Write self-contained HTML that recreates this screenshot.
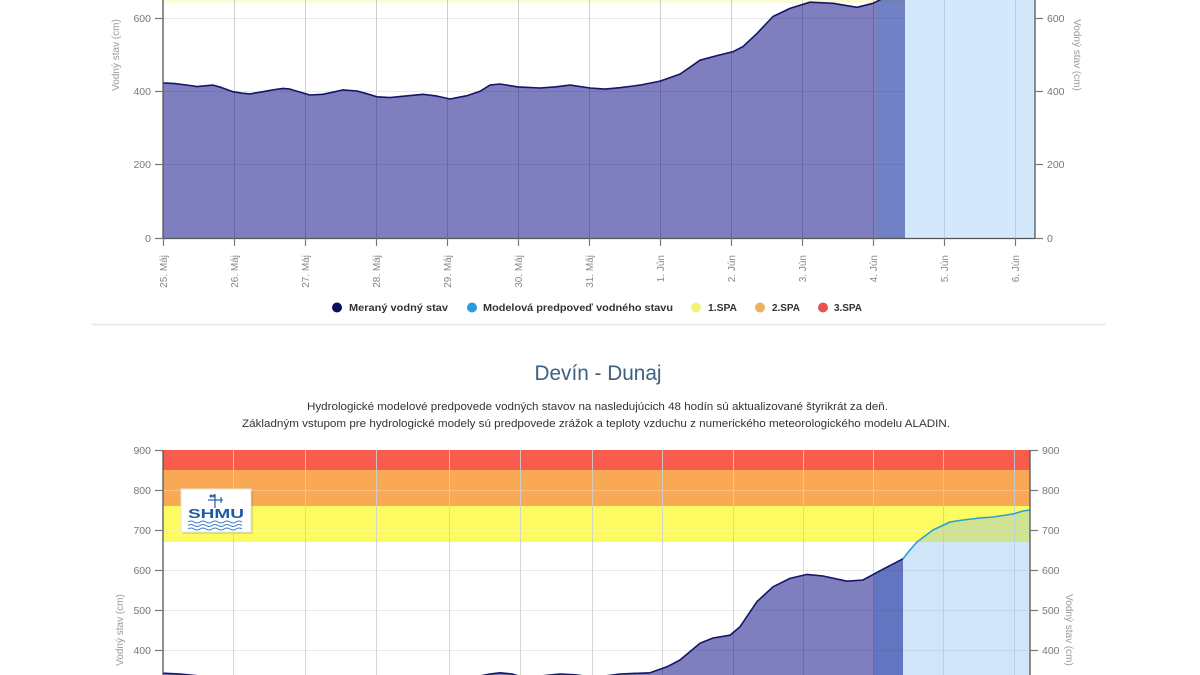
<!DOCTYPE html>
<html>
<head>
<meta charset="utf-8">
<style>
html,body{margin:0;padding:0;background:#fff;}
svg{display:block;}
text{font-family:"Liberation Sans",sans-serif;}
</style>
</head>
<body>
<svg width="1200" height="675" viewBox="0 0 1200 675" xmlns="http://www.w3.org/2000/svg">
  <!-- card shadow for top chart -->
  <rect x="90" y="0" width="1016" height="324" fill="#fff"/>
  <line x1="92" y1="324.5" x2="1106" y2="324.5" stroke="#ececec" stroke-width="2"/>

  <!-- ============ TOP CHART ============ -->
  <rect x="163" y="0" width="872" height="3" fill="#fbfbd8"/>
  <g stroke="#e8e8e8" stroke-width="1">
    <line x1="163" y1="18.5" x2="1035" y2="18.5"/>
    <line x1="163" y1="91.5" x2="1035" y2="91.5"/>
    <line x1="163" y1="164.5" x2="1035" y2="164.5"/>
  </g>
  <rect x="905" y="0" width="130" height="238" fill="#d3e8fa"/>
  <g stroke="#cfcfcf" stroke-width="1">
    <line x1="234.5" y1="0" x2="234.5" y2="238"/>
    <line x1="305.5" y1="0" x2="305.5" y2="238"/>
    <line x1="376.5" y1="0" x2="376.5" y2="238"/>
    <line x1="447.5" y1="0" x2="447.5" y2="238"/>
    <line x1="518.5" y1="0" x2="518.5" y2="238"/>
    <line x1="589.5" y1="0" x2="589.5" y2="238"/>
    <line x1="660.5" y1="0" x2="660.5" y2="238"/>
    <line x1="731.5" y1="0" x2="731.5" y2="238"/>
    <line x1="802.5" y1="0" x2="802.5" y2="238"/>
    <line x1="873.5" y1="0" x2="873.5" y2="238"/>
    <line x1="944.5" y1="0" x2="944.5" y2="238" stroke="#b9cde0"/>
    <line x1="1015.5" y1="0" x2="1015.5" y2="238" stroke="#b9cde0"/>
  </g>
  <path d="M163,82.9 L175,83.6 L190,85.5 L197,86.6 L205,85.8 L213,85.1 L222,87.7 L233,91.7 L242,93.2 L250,93.9 L263,91.7 L275,89.5 L283,88.4 L290,89.1 L300,92.1 L310,95 L323,94.3 L335,91.7 L343,89.9 L357,91 L365,93.2 L377,96.8 L390,97.6 L405,96.1 L423,94.3 L437,96.1 L450,99 L467,95.7 L480,91.3 L490,85.1 L500,84 L518,86.9 L540,88 L555,86.9 L570,85.1 L590,88 L605,89.1 L620,87.7 L640,85.1 L660,81.1 L680,74.1 L700,60.2 L715,56.1 L733,51.7 L743,46.6 L757,33.4 L773,16.5 L790,8.4 L810,2.2 L833,3.3 L857,7.3 L873,3.3 L882,-1.1 L893,-5.9 L905,-11.4 L905,238 L163,238 Z" fill="#00007f" fill-opacity="0.5"/>
  <rect x="877" y="0" width="28" height="238" fill="#3a8ae8" fill-opacity="0.2"/>
  <path d="M163,82.9 L175,83.6 L190,85.5 L197,86.6 L205,85.8 L213,85.1 L222,87.7 L233,91.7 L242,93.2 L250,93.9 L263,91.7 L275,89.5 L283,88.4 L290,89.1 L300,92.1 L310,95 L323,94.3 L335,91.7 L343,89.9 L357,91 L365,93.2 L377,96.8 L390,97.6 L405,96.1 L423,94.3 L437,96.1 L450,99 L467,95.7 L480,91.3 L490,85.1 L500,84 L518,86.9 L540,88 L555,86.9 L570,85.1 L590,88 L605,89.1 L620,87.7 L640,85.1 L660,81.1 L680,74.1 L700,60.2 L715,56.1 L733,51.7 L743,46.6 L757,33.4 L773,16.5 L790,8.4 L810,2.2 L833,3.3 L857,7.3 L873,3.3 L882,-1.1 L893,-5.9" fill="none" stroke="#15156a" stroke-width="1.6" stroke-linejoin="round"/>
  <g stroke="#555" stroke-width="1.3">
    <line x1="163" y1="0" x2="163" y2="238.5"/>
    <line x1="163" y1="238.5" x2="1035" y2="238.5"/>
    <line x1="1035" y1="0" x2="1035" y2="238.5"/>
  </g>
  <g stroke="#777" stroke-width="1.2">
    <line x1="155" y1="18.5" x2="163" y2="18.5"/>
    <line x1="155" y1="91.5" x2="163" y2="91.5"/>
    <line x1="155" y1="164.5" x2="163" y2="164.5"/>
    <line x1="155" y1="238.5" x2="163" y2="238.5"/>
    <line x1="1035" y1="18.5" x2="1043" y2="18.5"/>
    <line x1="1035" y1="91.5" x2="1043" y2="91.5"/>
    <line x1="1035" y1="164.5" x2="1043" y2="164.5"/>
    <line x1="1035" y1="238.5" x2="1043" y2="238.5"/>
    <line x1="163.5" y1="238" x2="163.5" y2="246"/>
    <line x1="234.5" y1="238" x2="234.5" y2="246"/>
    <line x1="305.5" y1="238" x2="305.5" y2="246"/>
    <line x1="376.5" y1="238" x2="376.5" y2="246"/>
    <line x1="447.5" y1="238" x2="447.5" y2="246"/>
    <line x1="518.5" y1="238" x2="518.5" y2="246"/>
    <line x1="589.5" y1="238" x2="589.5" y2="246"/>
    <line x1="660.5" y1="238" x2="660.5" y2="246"/>
    <line x1="731.5" y1="238" x2="731.5" y2="246"/>
    <line x1="802.5" y1="238" x2="802.5" y2="246"/>
    <line x1="873.5" y1="238" x2="873.5" y2="246"/>
    <line x1="944.5" y1="238" x2="944.5" y2="246"/>
    <line x1="1015.5" y1="238" x2="1015.5" y2="246"/>
  </g>
  <g font-size="10.5" fill="#777" text-anchor="end">
    <text x="151" y="22">600</text>
    <text x="151" y="95">400</text>
    <text x="151" y="168">200</text>
    <text x="151" y="242">0</text>
  </g>
  <g font-size="10.5" fill="#777" text-anchor="start">
    <text x="1047" y="22">600</text>
    <text x="1047" y="95">400</text>
    <text x="1047" y="168">200</text>
    <text x="1047" y="242">0</text>
  </g>
  <text x="0" y="0" font-size="10" fill="#999" text-anchor="middle" transform="translate(119,55) rotate(-90)">Vodný stav (cm)</text>
  <text x="0" y="0" font-size="10" fill="#999" text-anchor="middle" transform="translate(1074,55) rotate(90)">Vodný stav (cm)</text>
  <g font-size="10" fill="#888" text-anchor="end">
    <text transform="translate(167,255) rotate(-90)">25. Máj</text>
    <text transform="translate(238,255) rotate(-90)">26. Máj</text>
    <text transform="translate(309,255) rotate(-90)">27. Máj</text>
    <text transform="translate(380,255) rotate(-90)">28. Máj</text>
    <text transform="translate(451,255) rotate(-90)">29. Máj</text>
    <text transform="translate(522,255) rotate(-90)">30. Máj</text>
    <text transform="translate(593,255) rotate(-90)">31. Máj</text>
    <text transform="translate(664,255) rotate(-90)">1. Jún</text>
    <text transform="translate(735,255) rotate(-90)">2. Jún</text>
    <text transform="translate(806,255) rotate(-90)">3. Jún</text>
    <text transform="translate(877,255) rotate(-90)">4. Jún</text>
    <text transform="translate(948,255) rotate(-90)">5. Jún</text>
    <text transform="translate(1019,255) rotate(-90)">6. Jún</text>
  </g>
  <g font-size="10" font-weight="bold" fill="#333">
    <circle cx="337" cy="307.5" r="5" fill="#0d0d5e"/>
    <text x="349" y="311" textLength="99" lengthAdjust="spacingAndGlyphs">Meraný vodný stav</text>
    <circle cx="472" cy="307.5" r="5" fill="#2b9ae0"/>
    <text x="483" y="311" textLength="190" lengthAdjust="spacingAndGlyphs">Modelová predpoveď vodného stavu</text>
    <circle cx="696" cy="307.5" r="5" fill="#f3f37a"/>
    <text x="708" y="311" textLength="29" lengthAdjust="spacingAndGlyphs">1.SPA</text>
    <circle cx="760" cy="307.5" r="5" fill="#eeb15c"/>
    <text x="772" y="311" textLength="28" lengthAdjust="spacingAndGlyphs">2.SPA</text>
    <circle cx="823" cy="307.5" r="5" fill="#e8524f"/>
    <text x="834" y="311" textLength="28" lengthAdjust="spacingAndGlyphs">3.SPA</text>
  </g>

  <!-- ============ BOTTOM CHART ============ -->
  <text x="598" y="380" font-size="21" fill="#3e5f80" text-anchor="middle" textLength="127" lengthAdjust="spacingAndGlyphs">Devín - Dunaj</text>
  <text x="307" y="410" font-size="11" fill="#333" textLength="581" lengthAdjust="spacingAndGlyphs">Hydrologické modelové predpovede vodných stavov na nasledujúcich 48 hodín sú aktualizované štyrikrát za deň.</text>
  <text x="242" y="427" font-size="11" fill="#333" textLength="708" lengthAdjust="spacingAndGlyphs">Základným vstupom pre hydrologické modely sú predpovede zrážok a teploty vzduchu z numerického meteorologického modelu ALADIN.</text>

  <rect x="163" y="450" width="867" height="20" fill="#f85c4c"/>
  <rect x="163" y="470" width="867" height="36" fill="#f9a955"/>
  <rect x="163" y="506" width="867" height="36" fill="#fcfc62"/>
  <g stroke="#e8e8e8" stroke-width="1">
    <line x1="163" y1="570.5" x2="1030" y2="570.5"/>
    <line x1="163" y1="610.5" x2="1030" y2="610.5"/>
    <line x1="163" y1="650.5" x2="1030" y2="650.5"/>
  </g>
  <g stroke="#ffffff" stroke-opacity="0.25" stroke-width="1">
    <line x1="163" y1="490.5" x2="1030" y2="490.5"/>
    <line x1="163" y1="530.5" x2="1030" y2="530.5"/>
  </g>
  <path d="M873,573 L880,570.8 L903,558.8 L910,550 L917,542 L933,530 L950,522 L963,520 L980,518 L993,517 L1013,514 L1023,511 L1030,510 L1030,680 L873,680 Z" fill="#7cb5ec" fill-opacity="0.35"/>
  <g stroke="#cfcfcf" stroke-width="1" stroke-opacity="0.85">
    <line x1="233.5" y1="450" x2="233.5" y2="675"/>
    <line x1="305.5" y1="450" x2="305.5" y2="675"/>
    <line x1="376.5" y1="450" x2="376.5" y2="675"/>
    <line x1="449.5" y1="450" x2="449.5" y2="675"/>
    <line x1="520.5" y1="450" x2="520.5" y2="675"/>
    <line x1="592.5" y1="450" x2="592.5" y2="675"/>
    <line x1="662.5" y1="450" x2="662.5" y2="675"/>
    <line x1="733.5" y1="450" x2="733.5" y2="675"/>
    <line x1="803.5" y1="450" x2="803.5" y2="675"/>
    <line x1="873.5" y1="450" x2="873.5" y2="675"/>
    <line x1="943.5" y1="450" x2="943.5" y2="675" stroke="#b9cde0"/>
    <line x1="1014.5" y1="450" x2="1014.5" y2="675" stroke="#b9cde0"/>
  </g>
  <path d="M163,673.2 L180,674 L200,676 L230,678 L300,680 L400,682 L470,678 L490,674 L500,672.8 L512,674 L525,678 L545,675.6 L560,674 L575,674.8 L590,676.8 L605,676 L620,674 L650,672.8 L667,666.8 L680,660 L700,643.2 L713,638 L730,635.2 L740,626.8 L757,601.6 L773,586.8 L790,578.4 L807,574.4 L823,576 L847,581.2 L863,580 L880,570.8 L903,558.8 L903,690 L163,690 Z" fill="#00007f" fill-opacity="0.5"/>
  <path d="M873,573 L880,570.8 L903,558.8 L903,690 L873,690 Z" fill="#3a8ae8" fill-opacity="0.1"/>
  <path d="M163,673.2 L180,674 L200,676 L230,678 L300,680 L400,682 L470,678 L490,674 L500,672.8 L512,674 L525,678 L545,675.6 L560,674 L575,674.8 L590,676.8 L605,676 L620,674 L650,672.8 L667,666.8 L680,660 L700,643.2 L713,638 L730,635.2 L740,626.8 L757,601.6 L773,586.8 L790,578.4 L807,574.4 L823,576 L847,581.2 L863,580 L880,570.8 L903,558.8" fill="none" stroke="#15156a" stroke-width="1.6" stroke-linejoin="round"/>
  <path d="M903,558.8 L910,550 L917,542 L933,530 L950,522 L963,520 L980,518 L993,517 L1013,514 L1023,511 L1030,510" fill="none" stroke="#2a9fd6" stroke-width="1.6" stroke-linejoin="round"/>
  <g stroke="#555" stroke-width="1.3">
    <line x1="163" y1="450" x2="163" y2="675"/>
    <line x1="1030" y1="450" x2="1030" y2="675"/>
  </g>
  <g stroke="#777" stroke-width="1.2">
    <line x1="155" y1="450.5" x2="163" y2="450.5"/>
    <line x1="155" y1="490.5" x2="163" y2="490.5"/>
    <line x1="155" y1="530.5" x2="163" y2="530.5"/>
    <line x1="155" y1="570.5" x2="163" y2="570.5"/>
    <line x1="155" y1="610.5" x2="163" y2="610.5"/>
    <line x1="155" y1="650.5" x2="163" y2="650.5"/>
    <line x1="1030" y1="450.5" x2="1038" y2="450.5"/>
    <line x1="1030" y1="490.5" x2="1038" y2="490.5"/>
    <line x1="1030" y1="530.5" x2="1038" y2="530.5"/>
    <line x1="1030" y1="570.5" x2="1038" y2="570.5"/>
    <line x1="1030" y1="610.5" x2="1038" y2="610.5"/>
    <line x1="1030" y1="650.5" x2="1038" y2="650.5"/>
  </g>
  <g font-size="10.5" fill="#777" text-anchor="end">
    <text x="151" y="454">900</text>
    <text x="151" y="494">800</text>
    <text x="151" y="534">700</text>
    <text x="151" y="574">600</text>
    <text x="151" y="614">500</text>
    <text x="151" y="654">400</text>
  </g>
  <g font-size="10.5" fill="#777" text-anchor="start">
    <text x="1042" y="454">900</text>
    <text x="1042" y="494">800</text>
    <text x="1042" y="534">700</text>
    <text x="1042" y="574">600</text>
    <text x="1042" y="614">500</text>
    <text x="1042" y="654">400</text>
  </g>
  <text x="0" y="0" font-size="10" fill="#999" text-anchor="middle" transform="translate(123,630) rotate(-90)">Vodný stav (cm)</text>
  <text x="0" y="0" font-size="10" fill="#999" text-anchor="middle" transform="translate(1066,630) rotate(90)">Vodný stav (cm)</text>

  <!-- SHMU logo -->
  <rect x="183" y="491" width="70" height="43" fill="#000" fill-opacity="0.12"/>
  <rect x="181" y="489" width="70" height="43" fill="#fff" stroke="#e4e4e4" stroke-width="1"/>
  <g stroke="#2a5ea8" stroke-width="1.2" fill="none">
    <line x1="215" y1="494" x2="215" y2="508"/>
    <line x1="208" y1="500" x2="223" y2="500"/>
    <line x1="221" y1="497" x2="221" y2="503"/>
  </g>
  <circle cx="211" cy="496" r="1.5" fill="#2a5ea8"/>
  <circle cx="214" cy="496" r="1.5" fill="#2a5ea8"/>
  <text x="216" y="518" font-family="Liberation Serif, serif" font-size="13" font-weight="bold" fill="#1f5aa6" text-anchor="middle" textLength="56" lengthAdjust="spacingAndGlyphs">SHMU</text>
  <g stroke="#3b7ec4" stroke-width="1" fill="none">
    <path d="M188,522 q3,-2 6,0 t6,0 t6,0 t6,0 t6,0 t6,0 t6,0 t6,0 t6,0"/>
    <path d="M188,525.5 q3,-2 6,0 t6,0 t6,0 t6,0 t6,0 t6,0 t6,0 t6,0 t6,0"/>
    <path d="M188,529 q3,-2 6,0 t6,0 t6,0 t6,0 t6,0 t6,0 t6,0 t6,0 t6,0"/>
  </g>
</svg>
</body>
</html>
